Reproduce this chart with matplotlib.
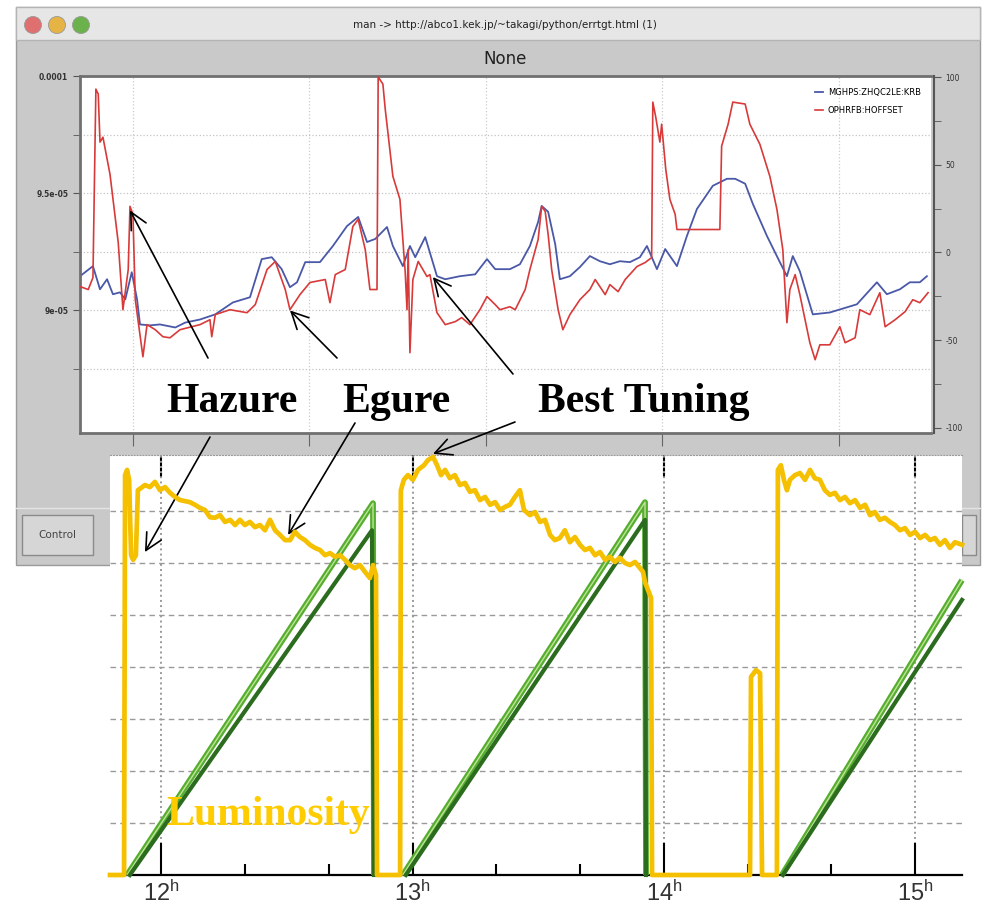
import matplotlib
matplotlib.use("Agg")
import matplotlib.pyplot as plt
from matplotlib.patches import Rectangle, Ellipse
from matplotlib.lines import Line2D
from matplotlib.ticker import MultipleLocator

plt.rcParams['font.family'] = ['DejaVu Sans']
plt.rcParams['mathtext.default'] = 'regular'

# ---- upper panel (screenshot of the monitor window) ----
blue_t = [1.0, 3.2, 4.4, 5.6, 6.6, 7.8, 8.7, 9.8, 10.7, 11.2,
          12.9, 14.6, 17.2, 18.9, 21.4, 24.0, 27.0, 29.9, 31.9, 33.6,
          35.3, 36.7, 37.9, 39.3, 41.8, 44.0, 46.4, 48.3, 49.8, 51.2,
          53.2, 54.2, 55.9, 57.1, 58.0, 59.7, 61.7, 63.1, 65.6, 68.2,
          70.2, 71.6, 74.1, 75.8, 77.5, 78.9, 79.5, 80.6, 81.8, 82.6,
          84.3, 86.0, 87.7, 89.4, 91.1, 92.8, 94.5, 96.2, 97.4, 99.1,
          100.5, 102.5, 104.2, 105.9, 108.6, 111.0, 112.4, 114.1, 115.4, 117.8,
          120.0, 121.2, 122.2, 123.4, 125.6, 128.5, 133.1, 136.5, 138.2, 140.4,
          142.1, 143.8, 145.0]
blue_v = [9.146, 9.189, 9.090, 9.133, 9.069, 9.077, 9.047, 9.163, 9.047, 8.940,
          8.936, 8.940, 8.927, 8.948, 8.961, 8.983, 9.034, 9.056, 9.219, 9.227,
          9.176, 9.099, 9.120, 9.206, 9.206, 9.275, 9.360, 9.399, 9.292, 9.305,
          9.356, 9.275, 9.189, 9.275, 9.227, 9.313, 9.146, 9.133, 9.146, 9.154,
          9.219, 9.176, 9.176, 9.197, 9.275, 9.378, 9.446, 9.421, 9.283, 9.133,
          9.146, 9.185, 9.232, 9.210, 9.197, 9.210, 9.206, 9.227, 9.275, 9.176,
          9.262, 9.189, 9.318, 9.433, 9.532, 9.562, 9.562, 9.541, 9.455, 9.318,
          9.206, 9.146, 9.232, 9.167, 8.983, 8.991, 9.026, 9.120, 9.069, 9.090,
          9.120, 9.120, 9.146]   # x 1e-5

red_t = [1.0, 2.4, 3.2, 3.7, 4.1, 4.4, 4.9, 6.1, 7.5, 8.3,
         9.2, 9.5, 10.0, 10.4, 11.2, 11.7, 12.4, 13.8, 15.1, 16.3,
         18.0, 21.4, 23.1, 23.4, 24.0, 26.5, 29.4, 30.8, 32.8, 34.2,
         35.9, 36.7, 38.4, 40.1, 42.7, 43.5, 44.4, 46.1, 47.4, 48.3,
         49.5, 50.3, 51.5, 51.7, 52.5, 52.9, 54.2, 55.4, 56.3, 56.6,
         56.8, 57.1, 57.6, 58.5, 60.0, 60.5, 61.7, 63.1, 64.8, 65.9,
         67.3, 69.0, 70.2, 71.6, 72.4, 74.1, 75.0, 76.7, 77.5, 78.9,
         79.5, 80.1, 80.6, 81.2, 82.3, 83.1, 84.3, 86.0, 87.7, 88.6,
         90.3, 91.1, 92.5, 93.7, 95.7, 97.1, 98.2, 98.4, 98.9, 99.6,
         99.9, 100.6, 101.3, 102.2, 102.5, 109.8, 110.1, 111.2, 112.0, 114.1,
         114.9, 116.6, 118.3, 119.5, 120.5, 121.2, 121.7, 122.6, 123.4, 125.1,
         126.0, 126.8, 128.5, 130.2, 131.1, 132.8, 133.6, 135.3, 137.0, 137.9,
         139.6, 141.3, 142.6, 143.8, 145.2]
red_v = [-19.4, -21.1, -14.3, 93.1, 90.3, 62.9, 65.7, 44.6, 5.7, -32.6,
         -9.7, 26.3, 21.7, -26.9, -46.9, -59.4, -41.1, -44.0, -48.0, -48.6,
         -44.0, -41.1, -38.3, -48.0, -35.4, -32.6, -34.3, -29.7, -9.7, -5.1,
         -21.1, -32.6, -24.0, -17.1, -15.4, -28.6, -12.6, -9.7, 14.9, 18.9,
         1.7, -21.1, -21.1, 100.0, 96.0, 81.7, 43.4, 30.3, -11.4, -32.6,
         1.7, -57.1, -15.4, -5.1, -13.7, -12.6, -34.3, -41.1, -39.4, -37.1,
         -41.1, -32.6, -25.1, -29.7, -32.6, -30.9, -32.6, -21.1, -9.7, 7.4,
         26.3, 23.4, 10.3, -9.7, -32.6, -44.0, -35.4, -26.9, -21.1, -15.4,
         -24.0, -18.3, -22.3, -15.4, -8.0, -5.7, -2.9, 85.7, 77.1, 62.9,
         73.1, 47.4, 30.3, 21.7, 13.1, 13.1, 60.6, 73.1, 85.7, 84.6,
         73.1, 61.7, 43.4, 24.6, 1.7, -40.0, -21.1, -12.6, -24.0, -51.4,
         -61.1, -52.6, -52.6, -42.3, -51.4, -48.6, -32.6, -35.4, -22.9, -42.3,
         -38.3, -33.7, -26.9, -28.6, -22.9]

left_ticks = [9e-5, 9.5e-5, 1e-4]
left_labels = ['9e-05', '9.5e-05', '0.0001']
right_ticks = [-100, -50, 0, 50, 100]
right_labels = ['-100', '-50', '0', '50', '100']
series_names = ['MGHPS:ZHQC2LE:KRB', 'OPHRFB:HOFFSET']

# ---- lower panel (luminosity and current history) ----
lum1_t = [11.795, 11.851, 11.855, 11.863, 11.871, 11.879, 11.887, 11.898, 11.906, 11.918,
          11.934, 11.954, 11.974, 11.994, 12.014, 12.034, 12.054, 12.074, 12.113, 12.133,
          12.153, 12.173, 12.193, 12.213, 12.233, 12.253, 12.273, 12.293, 12.312, 12.332,
          12.352, 12.372, 12.392, 12.412, 12.432, 12.452, 12.472, 12.492, 12.512, 12.531,
          12.551, 12.571, 12.591, 12.611, 12.631, 12.651, 12.671, 12.691, 12.711, 12.731,
          12.750, 12.770, 12.790, 12.810, 12.830, 12.842, 12.854, 12.858]
lum1_v = [0, 0, 7.69, 7.79, 7.60, 6.15, 6.06, 6.15, 7.40, 7.44,
          7.50, 7.46, 7.56, 7.40, 7.46, 7.35, 7.27, 7.21, 7.17, 7.12,
          7.06, 7.02, 6.88, 6.87, 6.92, 6.79, 6.83, 6.73, 6.83, 6.73,
          6.79, 6.69, 6.73, 6.63, 6.83, 6.63, 6.54, 6.44, 6.44, 6.60,
          6.50, 6.44, 6.35, 6.29, 6.25, 6.15, 6.19, 6.12, 6.15, 6.06,
          5.96, 5.90, 5.96, 5.83, 5.71, 5.96, 5.77, 0]
lum2_t = [12.950, 12.953, 12.965, 12.981, 13.001, 13.021, 13.045, 13.061, 13.081, 13.097,
          13.113, 13.129, 13.148, 13.168, 13.188, 13.208, 13.228, 13.248, 13.268, 13.288,
          13.308, 13.328, 13.348, 13.368, 13.387, 13.407, 13.427, 13.443, 13.467, 13.487,
          13.507, 13.527, 13.547, 13.566, 13.586, 13.606, 13.626, 13.646, 13.666, 13.686,
          13.706, 13.726, 13.746, 13.766, 13.785, 13.805, 13.825, 13.845, 13.865, 13.885,
          13.905, 13.917, 13.925, 13.937, 13.949, 13.953]
lum2_v = [0, 7.40, 7.60, 7.69, 7.60, 7.79, 7.88, 7.98, 8.04, 7.88,
          7.69, 7.79, 7.63, 7.69, 7.50, 7.54, 7.37, 7.40, 7.21, 7.27,
          7.12, 7.17, 7.02, 7.08, 7.12, 7.27, 7.40, 7.02, 6.92, 6.98,
          6.79, 6.83, 6.54, 6.44, 6.48, 6.63, 6.40, 6.50, 6.35, 6.25,
          6.29, 6.15, 6.21, 6.06, 6.12, 6.02, 6.10, 6.00, 5.96, 6.02,
          5.90, 5.83, 5.63, 5.48, 5.33, 0]
lum3_t = [14.343, 14.347, 14.367, 14.383, 14.391, 14.450, 14.454, 14.466, 14.478, 14.490,
          14.502, 14.522, 14.542, 14.562, 14.582, 14.601, 14.621, 14.641, 14.661, 14.681,
          14.701, 14.721, 14.741, 14.761, 14.781, 14.801, 14.821, 14.840, 14.860, 14.880,
          14.900, 14.920, 14.940, 14.960, 14.980, 15.000, 15.020, 15.040, 15.060, 15.079,
          15.099, 15.119, 15.139, 15.159, 15.187]
lum3_v = [0, 3.81, 3.94, 3.88, 0, 0, 7.79, 7.88, 7.60, 7.40,
          7.60, 7.69, 7.73, 7.60, 7.79, 7.63, 7.60, 7.40, 7.31, 7.35,
          7.21, 7.27, 7.15, 7.21, 7.06, 7.12, 6.92, 6.98, 6.83, 6.87,
          6.79, 6.73, 6.63, 6.67, 6.54, 6.60, 6.48, 6.54, 6.44, 6.48,
          6.35, 6.44, 6.29, 6.40, 6.35]

light_t = [[11.863, 12.842, 12.846], [12.961, 13.925, 13.929], [14.470, 15.187]]
light_v = [[0, 7.15, 0], [0, 7.17, 0], [0, 5.67]]
dark_t = [[11.874, 12.838, 12.846], [12.973, 13.925, 13.929], [14.474, 15.187]]
dark_v = [[0, 6.63, 0], [0, 6.83, 0], [0, 5.29]]

hours = [12, 13, 14, 15]
hour_labels = ['12$^{h}$', '13$^{h}$', '14$^{h}$', '15$^{h}$']

W, H = 996, 914
def fx(x):
    return x / W
def fy(y):
    return 1 - y / H
def box(x0, y0, x1, y1, **kw):
    return Rectangle((fx(x0), fy(y1)), fx(x1) - fx(x0), fy(y0) - fy(y1),
                     transform=fig.transFigure, **kw)

fig = plt.figure(figsize=(9.96, 9.14), dpi=100)
fig.patch.set_facecolor('white')

# window chrome
fig.add_artist(box(16, 7, 980, 565, facecolor='#c9c9c9', edgecolor='#9a9a9a', lw=1, zorder=-5))
fig.add_artist(box(16, 7, 980, 40, facecolor='#e6e6e6', edgecolor='#b4b4b4', lw=1, zorder=-4))
for cx, col in [(33, '#e07070'), (57, '#e6b445'), (81, '#6cb24c')]:
    fig.add_artist(Ellipse((fx(cx), fy(25)), 17 / W, 17 / H, transform=fig.transFigure,
                           facecolor=col, edgecolor='#999999', lw=0.6, zorder=-3))
fig.text(fx(505), fy(25), 'man -> http://abco1.kek.jp/~takagi/python/errtgt.html (1)',
         ha='center', va='center', fontsize=7.5, color='#222222', zorder=-3)
fig.text(fx(505), fy(59), 'None', ha='center', va='center', fontsize=12, color='#222222', zorder=-3)
fig.add_artist(Line2D([fx(16), fx(980)], [fy(508), fy(508)], transform=fig.transFigure,
                      color='#e4e4e4', lw=1, zorder=-3))
fig.add_artist(box(22, 515, 93, 555, facecolor='#d6d6d6', edgecolor='#8a8a8a', lw=1, zorder=-3))
fig.text(fx(57), fy(535), 'Control', ha='center', va='center', fontsize=7.5, color='#444444', zorder=-3)
fig.add_artist(box(962, 515, 976, 555, facecolor='#d6d6d6', edgecolor='#8a8a8a', lw=1, zorder=-3))

# upper chart
ax1 = fig.add_axes([fx(80), fy(433), fx(931) - fx(80), fy(76) - fy(433)], zorder=1)
ax1.set_facecolor('white')
ax2 = ax1.twinx()
lb, = ax1.plot(blue_t, [v * 1e-5 for v in blue_v], color='#4a58a8', lw=1.3)
lr, = ax2.plot(red_t, red_v, color='#d83a3a', lw=1.2)
ax1.set_xlim(1.0, 145.7)
ax1.set_ylim(8.4764e-5, 1.00009e-4)
ax2.set_ylim(-102.85, 100.57)
ax1.set_xticks([10, 40, 70, 100, 130])
ax1.tick_params(axis='x', direction='out', length=9, color='#666666', labelbottom=False)
ax1.set_yticks(left_ticks, labels=left_labels)
ax1.set_yticks([8.75e-5, 9.25e-5, 9.75e-5], minor=True)
ax1.tick_params(axis='y', which='both', length=5, color='#555555', labelsize=5.5, labelcolor='#333333')
ax1.grid(axis='y', which='both', ls=':', color='#c4c4c4', lw=0.9)
ax1.grid(axis='x', ls=':', color='#cccccc', lw=0.9)
for lab in ax1.get_yticklabels():
    lab.set_fontweight('bold')
for s in ['left', 'top', 'bottom']:
    ax1.spines[s].set_color('#707070')
    ax1.spines[s].set_linewidth(2)
ax1.spines['right'].set_visible(False)
ax2.set_yticks(right_ticks, labels=right_labels)
ax2.set_yticks([-75, -25, 25, 75], minor=True)
ax2.tick_params(axis='y', which='both', length=5, color='#555555', labelsize=5.5, labelcolor='#333333')
for lab in ax2.get_yticklabels():
    lab.set_fontweight('bold')
for s in ['left', 'top', 'bottom']:
    ax2.spines[s].set_visible(False)
ax2.spines['right'].set_position(('outward', 2))
ax2.spines['right'].set_color('#555555')
ax2.spines['right'].set_linewidth(1.5)
ax2.legend([lb, lr], series_names, loc='upper right', bbox_to_anchor=(fx(925), fy(84)),
           bbox_transform=fig.transFigure, frameon=False, fontsize=6, handlelength=1.0,
           handletextpad=0.6, labelspacing=1.1, borderpad=0)

arrow = dict(arrowstyle='->,head_length=0.6,head_width=0.3', lw=1.2, color='black',
             mutation_scale=20, shrinkA=0, shrinkB=0)
ax2.annotate('', xy=(9.5, 24), xytext=(fx(208), fy(358)), textcoords='figure fraction', arrowprops=arrow)
ax2.annotate('', xy=(36.7, -33), xytext=(fx(337), fy(358)), textcoords='figure fraction', arrowprops=arrow)
ax2.annotate('', xy=(61.0, -14), xytext=(fx(513), fy(374)), textcoords='figure fraction', arrowprops=arrow)

# lower chart (pasted picture)
fig.add_artist(box(110, 455, 962, 914, facecolor='white', edgecolor='none', zorder=1.5))
ax3 = fig.add_axes([fx(110), fy(875), fx(962) - fx(110), fy(455) - fy(875)], zorder=2)
ax3.set_facecolor('white')
for tt, vv in zip(light_t, light_v):
    ax3.plot(tt, vv, color='#56ae2e', lw=4.2, solid_capstyle='butt', clip_on=False, zorder=3)
    ax3.plot(tt, vv, color='#bfe39a', lw=1.0, clip_on=False, zorder=3.1)
for tt, vv in zip(dark_t, dark_v):
    ax3.plot(tt, vv, color='#2b6c1e', lw=3.0, clip_on=False, zorder=3.2)
ax3.plot(lum1_t + lum2_t + lum3_t, lum1_v + lum2_v + lum3_v, color='#f5c000', lw=3.4,
         solid_joinstyle='round', clip_on=False, zorder=4)
ax3.set_xlim(11.795, 15.187)
ax3.set_ylim(0, 8.077)
ax3.set_xticks(hours, labels=hour_labels)
ax3.xaxis.set_minor_locator(MultipleLocator(1 / 3))
ax3.tick_params(axis='x', which='major', direction='in', length=23, width=1.5, color='black',
                labelsize=17, labelcolor='#333333', pad=4)
ax3.tick_params(axis='x', which='minor', direction='in', length=8, width=1.5, color='black')
for lab in ax3.get_xticklabels():
    lab.set_family('Liberation Sans')
ax3.set_yticks(range(1, 8))
ax3.tick_params(axis='y', length=0, labelleft=False)
ax3.grid(axis='y', ls=(0, (4, 3)), color='#9a9a9a', lw=1)
ax3.grid(axis='x', which='major', ls=':', color='#9a9a9a', lw=1.4)
ax3.spines['left'].set_visible(False)
ax3.spines['right'].set_visible(False)
ax3.spines['bottom'].set_linewidth(1.6)
ax3.spines['top'].set_linestyle(':')
ax3.spines['top'].set_color('#9a9a9a')
top = ax3.secondary_xaxis('top')
top.set_xticks(hours)
top.tick_params(direction='in', length=16, width=1.5, color='black', labeltop=False)
top.spines['top'].set_visible(False)

ax3.annotate('', xy=(11.934, 6.21), xytext=(fx(210), fy(437)), textcoords='figure fraction',
             arrowprops=arrow, annotation_clip=False)
ax3.annotate('', xy=(12.504, 6.54), xytext=(fx(355), fy(423)), textcoords='figure fraction',
             arrowprops=arrow, annotation_clip=False)
ax3.annotate('', xy=(13.081, 8.1), xytext=(fx(515), fy(422)), textcoords='figure fraction',
             arrowprops=arrow, annotation_clip=False)

serif = ['Liberation Serif', 'DejaVu Serif']
fig.text(fx(232), fy(412), 'Hazure', ha='center', va='baseline', fontsize=30,
         fontweight='bold', family=serif, zorder=5)
fig.text(fx(396), fy(412), 'Egure', ha='center', va='baseline', fontsize=30,
         fontweight='bold', family=serif, zorder=5)
fig.text(fx(644), fy(412), 'Best Tuning', ha='center', va='baseline', fontsize=30,
         fontweight='bold', family=serif, zorder=5)
fig.text(fx(268), fy(825), 'Luminosity', ha='center', va='baseline', fontsize=30,
         fontweight='bold', family=serif, color='#ffcc00', zorder=5)

fig.savefig('out.png', dpi=100)
